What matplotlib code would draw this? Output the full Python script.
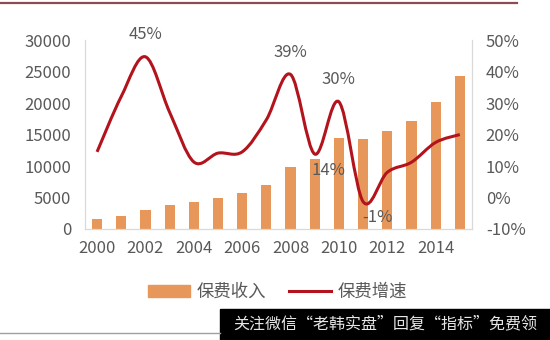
import numpy as np
import matplotlib as mpl
mpl.use("Agg")
import matplotlib.pyplot as plt
from matplotlib.path import Path
from matplotlib.patches import PathPatch, Patch, Rectangle
from matplotlib.lines import Line2D

plt.rcParams['font.family'] = ['Noto Sans CJK SC', 'DejaVu Sans']

# 保费收入 (亿元) and 同比增速 (%)
years = list(range(2000, 2016))
premium = [1596, 2109, 3053, 3880, 4318, 4927, 5641, 7036,
           9784, 11137, 14528, 14339, 15488, 17222, 20235, 24283]
growth = [14.5, 32.1, 44.7, 27.1, 11.3, 14.1, 14.5, 24.7,
          39.1, 13.8, 30.4, -1.3, 8.0, 11.2, 17.5, 20.0]
left_ticks = [0, 5000, 10000, 15000, 20000, 25000, 30000]
right_ticks = [-10, 0, 10, 20, 30, 40, 50]
xticks = [2000, 2002, 2004, 2006, 2008, 2010, 2012, 2014]
# labelled points: year -> (dx, dy) offset in points
labels = {2002: (0, 16), 2008: (0, 16), 2010: (0, 16),
          2009: (10, -11.5), 2011: (10, -11.5)}

bar_col = '#E8975A'
line_col = '#B3131C'
txt_col = '#595959'
spine_col = '#D9D9D9'

fig = plt.figure(figsize=(5.5, 3.4), dpi=100)
ax = fig.add_axes([0.1545, 0.3265, 0.7035, 0.5555])
ax2 = ax.twinx()

ax.bar(years, premium, width=0.42, color=bar_col, zorder=2)
ax.set_xlim(1999.5, 2015.5)
ax.set_ylim(0, 30000)
ax.set_yticks(left_ticks)
ax.set_xticks(xticks)
ax2.set_ylim(-10, 50)
ax2.set_yticks(right_ticks)
ax2.set_yticklabels([f'{t}%' for t in right_ticks])

for a in (ax, ax2):
    a.tick_params(length=0, labelsize=12, colors=txt_col)
    a.spines['top'].set_visible(False)
    for s in ('left', 'right', 'bottom'):
        a.spines[s].set_color(spine_col)
ax.tick_params(axis='x', pad=8)
ax.tick_params(axis='y', pad=10)
ax2.tick_params(axis='y', pad=10)

# smoothed growth line, Bezier segments through each data point
pts = np.column_stack([years, growth]).astype(float)
ext = np.vstack([pts[0], pts, pts[-1]])
verts = [pts[0]]
codes = [Path.MOVETO]
for i in range(len(pts) - 1):
    p0, p1, p2, p3 = ext[i], ext[i + 1], ext[i + 2], ext[i + 3]
    verts += [p1 + (p2 - p0) / 6, p2 - (p3 - p1) / 6, p2]
    codes += [Path.CURVE4] * 3
ax2.add_patch(PathPatch(Path(verts, codes), fill=False,
                        edgecolor=line_col, lw=2.2, zorder=3))

for yr, (dx, dy) in labels.items():
    v = growth[years.index(yr)]
    ax2.annotate(f'{round(v)}%', (yr, v), xytext=(dx, dy),
                 textcoords='offset points', ha='center', va='center',
                 fontsize=12, color=txt_col)

handles = [Patch(color=bar_col), Line2D([], [], color=line_col, lw=2.2)]
fig.legend(handles, ['保费收入', '保费增速'], loc='center',
           bbox_to_anchor=(0.505, 0.141), ncol=2, frameon=False,
           fontsize=12.5, handlelength=2.4, columnspacing=1.3,
           handletextpad=0.4, labelcolor=txt_col)

# page decorations
fig.add_artist(Line2D([0, 517 / 550], [1 - 3 / 340] * 2, color='#8E4A57',
                      lw=1.6, transform=fig.transFigure))
fig.add_artist(Line2D([0, 220 / 550], [1 - 333 / 340] * 2, color='#A0A0A0',
                      lw=1.0, transform=fig.transFigure))
fig.add_artist(Rectangle((220 / 550, 0), 330 / 550, 31 / 340, color='black',
                         transform=fig.transFigure))
fig.text(385 / 550, 1 - 324 / 340, '关注微信“老韩实盘”回复“指标”免费领',
         ha='center', va='center', fontsize=11.5, color='#E6E6E6')

fig.savefig('out.png', dpi=100)
